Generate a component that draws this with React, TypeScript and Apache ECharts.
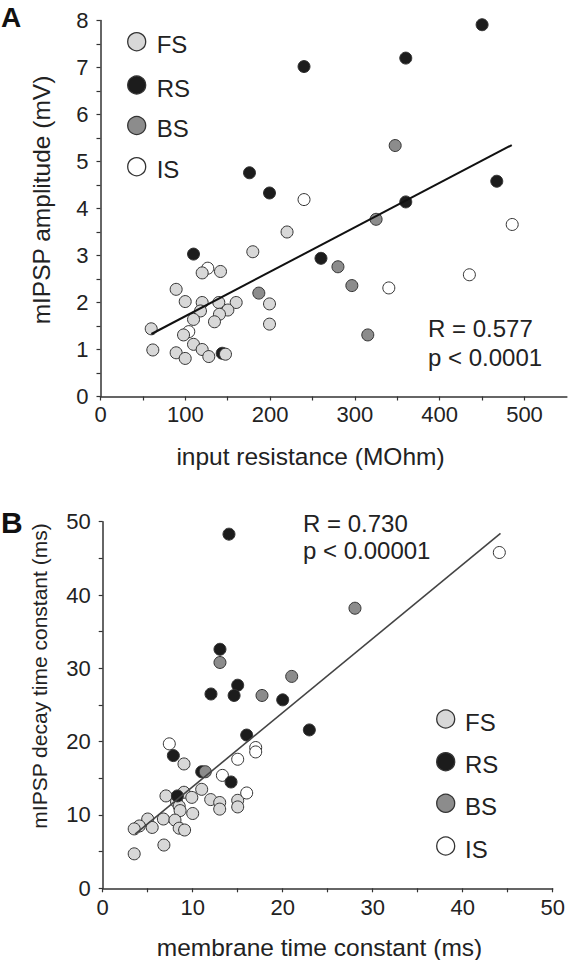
import React, { useEffect, useRef } from "react";
import * as echarts from "echarts";

const FONT = "'Liberation Sans', Arial, Helvetica, sans-serif";

// ---- Panel A: input resistance (MOhm) vs mIPSP amplitude (mV)
const fsA: number[][] = [
  [179.6, 3.08], [220, 3.5], [119.9, 2.63], [141.5, 2.66], [89.2, 2.28], [99.9, 2.02],
  [119.9, 2.0], [139.5, 2.0], [160, 2.0], [199.3, 1.97], [117.9, 1.82], [150.2, 1.84],
  [140.3, 1.75], [109.7, 1.64], [134.4, 1.59], [199.3, 1.54], [59.8, 1.44], [97.9, 1.31],
  [61.7, 0.99], [109.7, 1.11], [119.9, 1.0], [89.2, 0.93], [99.9, 0.81], [127.7, 0.85],
  [147.4, 0.9],
];
const rsA: number[][] = [
  [450, 7.91], [240, 7.02], [360, 7.2], [175.7, 4.76], [467.3, 4.58], [199.3, 4.33],
  [360, 4.14], [109.7, 3.03], [260, 2.94], [143.5, 0.92],
];
const bsA: number[][] = [
  [347.5, 5.34], [325, 3.77], [280, 2.76], [296.4, 2.36], [186.7, 2.2], [315.2, 1.31],
];
const isA: number[][] = [
  [240, 4.19], [485.5, 3.66], [435, 2.59], [340, 2.31], [126.5, 2.73], [104.1, 1.38],
];
const fitA: number[][] = [[60, 1.33], [485, 5.35]];
const statsA = ["R = 0.577", "p < 0.0001"];

// ---- Panel B: membrane time constant (ms) vs mIPSP decay time constant (ms)
const fsB: number[][] = [
  [9.03, 16.96], [11, 13.5], [9.03, 13.1], [7.03, 12.6], [9.9, 12.4], [12.0, 12.1],
  [13.0, 11.7], [13.0, 10.8], [15.0, 12.0], [15.0, 11.1], [8.2, 11.8], [8.5, 11.2],
  [8.6, 10.6], [10.0, 10.2], [5.0, 9.45], [6.74, 9.45], [8.03, 9.3], [4.07, 8.5],
  [3.5, 8.1], [5.5, 8.3], [8.5, 8.2], [9.1, 7.95], [6.8, 5.9], [3.5, 4.7],
];
const rsB: number[][] = [
  [14.03, 48.3], [13.03, 32.6], [15.0, 27.7], [12.03, 26.5], [14.6, 26.3], [20.0, 25.7],
  [22.96, 21.6], [16.0, 20.9], [7.85, 18.1], [11.0, 15.9], [14.26, 14.5], [8.3, 12.6],
];
const bsB: number[][] = [
  [28.03, 38.2], [13.03, 30.8], [21, 28.9], [17.7, 26.3], [11.4, 15.9],
];
const isB: number[][] = [
  [44.07, 45.8], [7.4, 19.7], [17.0, 19.2], [17.0, 18.6], [15.0, 17.6], [13.3, 15.4], [16.0, 13.0],
];
const fitB: number[][] = [[3.6, 7.4], [44.2, 48.4]];
const statsB = ["R = 0.730", "p < 0.00001"];

// ---- Ticks / labels
const labelsAX = [0, 100, 200, 300, 400, 500];
const ticksAX = [0, 50, 100, 150, 200, 250, 300, 350, 400, 450, 500];
const labelsAY = [0, 1, 2, 3, 4, 5, 6, 7, 8];
const ticksAY = [0, 0.5, 1, 1.5, 2, 2.5, 3, 3.5, 4, 4.5, 5, 5.5, 6, 6.5, 7, 7.5, 8];
const labelsB = [0, 10, 20, 30, 40, 50];
const ticksB = [0, 5, 10, 15, 20, 25, 30, 35, 40, 45, 50];

const groups = ["FS", "RS", "BS", "IS"];
const groupColors: Record<string, string> = {
  FS: "#d8d8d8",
  RS: "#1c1c1c",
  BS: "#8c8c8c",
  IS: "#ffffff",
};
const BORDER = "#333333";
const AXIS = "#333333";
const TEXT = "#222222";

function valueAxis(gridIndex: number, min: number, max: number, labels: number[], ticks: number[], margin: number) {
  return {
    type: "value",
    gridIndex,
    min,
    max,
    axisLine: { show: true, onZero: false, lineStyle: { color: AXIS, width: 1.5 } },
    axisTick: { show: true, inside: false, length: 4, customValues: ticks, lineStyle: { color: AXIS, width: 1.2 } },
    axisLabel: { show: true, customValues: labels, fontSize: 22, fontFamily: FONT, color: TEXT, margin },
    splitLine: { show: false },
    minorTick: { show: false },
  };
}

function scatter(name: string, data: number[][], idx: number) {
  return {
    type: "scatter",
    name,
    xAxisIndex: idx,
    yAxisIndex: idx,
    data,
    symbol: "circle",
    symbolSize: 12,
    itemStyle: { color: groupColors[name], borderColor: BORDER, borderWidth: 1, opacity: 1 },
    emphasis: { disabled: true },
  };
}

function fitLine(data: number[][], idx: number, color: string, width: number) {
  return {
    type: "line",
    xAxisIndex: idx,
    yAxisIndex: idx,
    data,
    showSymbol: false,
    symbol: "none",
    lineStyle: { color, width },
    silent: true,
    z: 5,
  };
}

function legendGraphics(cx: number, ys: number[], textX: number) {
  const els: any[] = [];
  groups.forEach((g, i) => {
    els.push({
      type: "circle",
      shape: { cx, cy: ys[i], r: 9 },
      style: { fill: groupColors[g], stroke: BORDER, lineWidth: 1.3 },
    });
    els.push({
      type: "text",
      x: textX,
      y: ys[i] + 3,
      style: { text: g, font: `24px ${FONT}`, fill: TEXT, textAlign: "left", textVerticalAlign: "middle" },
    });
  });
  return els;
}

export default function App() {
  const ref = useRef<HTMLDivElement>(null);
  useEffect(() => {
    if (!ref.current) return;
    const chart = echarts.init(ref.current, undefined, { renderer: "svg" });
    const option: any = {
      animation: false,
      backgroundColor: "#ffffff",
      grid: [
        { left: 100.5, top: 20.5, width: 466.4, height: 376, outerBoundsMode: "none", containLabel: false },
        { left: 102.7, top: 521.7, width: 450, height: 366.6, outerBoundsMode: "none", containLabel: false },
      ],
      xAxis: [
        valueAxis(0, 0, 550, labelsAX, ticksAX, 7),
        valueAxis(1, 0, 50, labelsB, ticksB, 8),
      ],
      yAxis: [
        valueAxis(0, 0, 8, labelsAY, ticksAY, 12),
        valueAxis(1, 0, 50, labelsB, ticksB, 12),
      ],
      series: [
        scatter("IS", isA, 0),
        scatter("RS", rsA, 0),
        scatter("BS", bsA, 0),
        scatter("FS", fsA, 0),
        fitLine(fitA, 0, "#111111", 2),
        scatter("FS", fsB, 1),
        scatter("IS", isB, 1),
        scatter("RS", rsB, 1),
        scatter("BS", bsB, 1),
        fitLine(fitB, 1, "#444444", 1.6),
      ],
      graphic: [
        { type: "text", x: 1, y: 17, style: { text: "A", font: `bold 28px ${FONT}`, fill: "#111", textAlign: "left", textVerticalAlign: "middle" } },
        { type: "text", x: 1, y: 522, style: { text: "B", font: `bold 30px ${FONT}`, fill: "#111", textAlign: "left", textVerticalAlign: "middle" } },
        { type: "text", x: 41, y: 200, rotation: Math.PI / 2, style: { text: "mIPSP amplitude (mV)", font: `24.5px ${FONT}`, fill: TEXT, textAlign: "center", textVerticalAlign: "middle" } },
        { type: "text", x: 310.5, y: 456, style: { text: "input resistance (MOhm)", font: `24.5px ${FONT}`, fill: TEXT, textAlign: "center", textVerticalAlign: "middle" } },
        { type: "text", x: 39.6, y: 676, rotation: Math.PI / 2, style: { text: "mIPSP decay time constant (ms)", font: `21px ${FONT}`, fill: TEXT, textAlign: "center", textVerticalAlign: "middle" } },
        { type: "text", x: 319.5, y: 947, style: { text: "membrane time constant (ms)", font: `24.5px ${FONT}`, fill: TEXT, textAlign: "center", textVerticalAlign: "middle" } },
        { type: "text", x: 428, y: 328.5, style: { text: statsA[0], font: `24px ${FONT}`, fill: TEXT, textAlign: "left", textVerticalAlign: "middle" } },
        { type: "text", x: 428, y: 357, style: { text: statsA[1], font: `24px ${FONT}`, fill: TEXT, textAlign: "left", textVerticalAlign: "middle" } },
        { type: "text", x: 303, y: 523.3, style: { text: statsB[0], font: `24px ${FONT}`, fill: TEXT, textAlign: "left", textVerticalAlign: "middle" } },
        { type: "text", x: 303, y: 550, style: { text: statsB[1], font: `24px ${FONT}`, fill: TEXT, textAlign: "left", textVerticalAlign: "middle" } },
        ...legendGraphics(136.7, [41.7, 85, 125.5, 166.7], 156.7),
        ...legendGraphics(445.7, [719, 761.7, 803.3, 846], 465),
      ],
    };
    chart.setOption(option);
    return () => chart.dispose();
  }, []);
  return (
    <div
      ref={ref}
      style={{ position: "absolute", left: 0, top: 0, width: 568, height: 960, background: "#fff" }}
    />
  );
}
